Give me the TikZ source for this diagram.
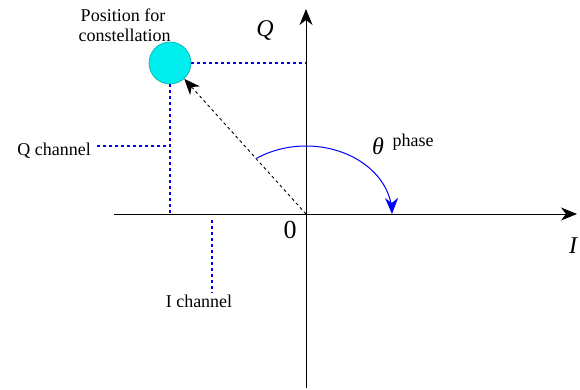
\documentclass[tikz,border=0pt]{standalone}
\usepackage{fontspec}
\setmainfont{Liberation Serif}
\usetikzlibrary{arrows.meta}
\definecolor{cyfill}{RGB}{0,238,238}
\definecolor{cyedge}{RGB}{0,170,170}
\definecolor{lineblue}{RGB}{0,0,255}
\begin{document}
\begin{tikzpicture}[x=1pt,y=-1pt,
  lbl/.style={font=\fontsize{18}{20}\selectfont, inner sep=0pt},
  bigit/.style={font=\fontsize{24}{26}\selectfont\itshape, inner sep=0pt},
  bdash/.style={draw=lineblue, dash pattern=on 3pt off 3pt, line width=1.2pt},
  tip/.style={-{Stealth[length=16pt,width=13pt,inset=5pt]}},
  axisline/.style={line width=1pt, tip}]
\useasboundingbox (0,0) rectangle (580,390);
% axes
\coordinate (o) at (306,214);
\coordinate (xs) at (114,214);
\coordinate (xe) at (577,214);
\coordinate (ys) at (306,388);
\coordinate (ye) at (306,9);
\draw[axisline] (xs) -- (xe);
\draw[axisline] (ys) -- (ye);
% constellation point
\node[circle, minimum size=42pt, inner sep=0pt, fill=cyfill, draw=cyedge, line width=0.6pt] (c) at (170,63) {};
\coordinate (qa) at (306,63);
\coordinate (ia) at (170,214);
\draw[bdash] (c.east) -- (qa);
\draw[bdash] (c.south) -- (ia);
% channel leaders
\coordinate (qc1) at (97,146);
\coordinate (qc2) at (170,146);
\coordinate (ic1) at (212,220);
\coordinate (ic2) at (212,293);
\draw[bdash] (qc1) -- (qc2);
\draw[bdash] (ic1) -- (ic2);
% vector
\draw[line width=0.9pt, dash pattern=on 3pt off 3pt, tip] (o) -- (c);
% phase arc
\draw[lineblue, line width=1pt, tip]
  plot[domain=125:0, samples=60, variable=\t] ({306+86*cos(\t)},{214-68*sin(\t)});
% labels
\node[lbl, anchor=base] (p1) at (123,22) {Position for};
\node[lbl, anchor=base] (p2) at (124.5,42) {constellation};
\node[lbl, anchor=base east] (qch) at (91,156) {Q channel};
\node[lbl, anchor=base] (ich) at (199,307) {I channel};
\node[bigit, anchor=base] (qlab) at (265,37) {Q};
\node[bigit, anchor=base] (th) at (378,155) {θ};
\node[lbl, anchor=base] (ph) at (413,147) {phase};
\node[font=\fontsize{26}{28}\selectfont, inner sep=0pt, anchor=base] (zero) at (290,238) {0};
\node[bigit, anchor=base west] (ilab) at (569,253) {I};
\end{tikzpicture}
\end{document}
